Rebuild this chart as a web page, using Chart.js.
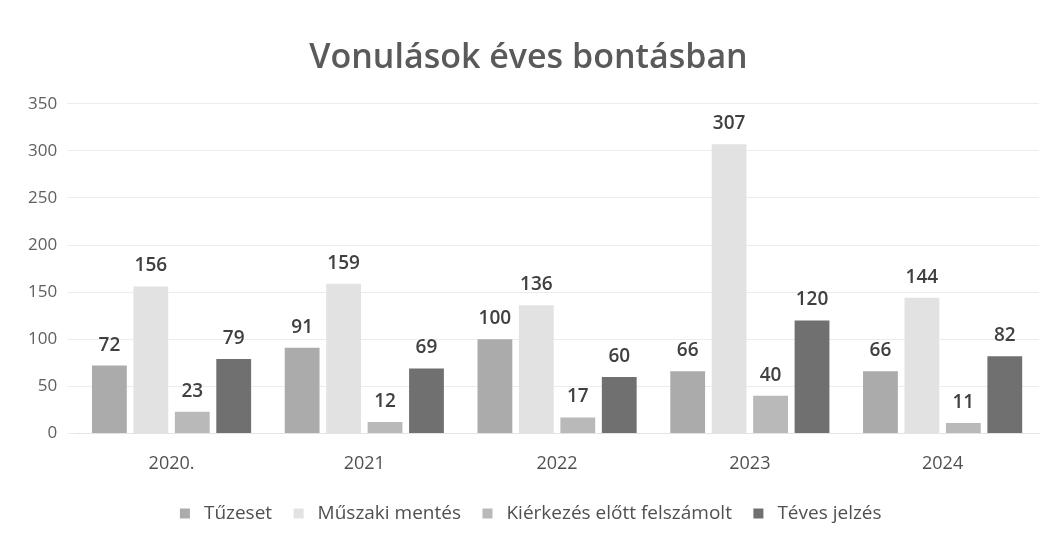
<!DOCTYPE html>
<html>
<head>
<meta charset="utf-8">
<script src="https://cdn.jsdelivr.net/npm/chart.js@4.4.1/dist/chart.umd.min.js"></script>
<style>
  html, body { margin: 0; padding: 0; background: #fff; }
  #wrap { width: 1057px; height: 539px; }
</style>
</head>
<body>
<div id="wrap"><canvas id="vonulasChart"></canvas></div>
<script>
const years = ["2020.", "2021", "2022", "2023", "2024"];
const tuzeset = [72, 91, 100, 66, 66];
const muszakiMentes = [156, 159, 136, 307, 144];
const kierkezesElott = [23, 12, 17, 40, 11];
const tevesJelzes = [79, 69, 60, 120, 82];

const fontFamily = "'Open Sans', 'Noto Sans', sans-serif";

// values above the bars
const barValues = {
    id: "barValues",
    afterDatasetsDraw(chart) {
        const ctx = chart.ctx;
        ctx.save();
        ctx.font = "600 19px " + fontFamily;
        ctx.fillStyle = "#404040";
        ctx.textAlign = "center";
        ctx.textBaseline = "bottom";
        chart.data.datasets.forEach((ds, i) => {
            chart.getDatasetMeta(i).data.forEach((bar, j) => {
                ctx.fillText(ds.data[j], bar.x, bar.y - 11);
            });
        });
        ctx.restore();
    },
};

const ctx = document.getElementById("vonulasChart").getContext("2d");
new Chart(ctx, {
    type: "bar",
    data: {
        labels: years,
        datasets: [
            { label: "Tűzeset", data: tuzeset, backgroundColor: "#ababab" },
            { label: "Műszaki mentés", data: muszakiMentes, backgroundColor: "#e2e2e2" },
            { label: "Kiérkezés előtt felszámolt", data: kierkezesElott, backgroundColor: "#b9b9b9" },
            { label: "Téves jelzés", data: tevesJelzes, backgroundColor: "#707070" },
        ],
    },
    options: {
        responsive: true,
        maintainAspectRatio: false,
        animation: false,
        categoryPercentage: 0.86,
        barPercentage: 0.84,
        layout: { padding: { left: 18, right: 18, top: 18, bottom: 6 } },
        scales: {
            x: {
                grid: { display: false },
                border: { color: "#e4e4e4" },
                ticks: { color: "#505050", font: { family: fontFamily, size: 18 }, padding: 12 },
            },
            y: {
                min: 0,
                max: 350,
                ticks: { stepSize: 50, color: "#606060", font: { family: fontFamily, size: 17 }, padding: 10 },
                grid: { color: "#ececec" },
                border: { display: false },
            },
        },
        plugins: {
            title: {
                display: true,
                text: "Vonulások éves bontásban",
                color: "#5a5a5a",
                font: { family: fontFamily, size: 34, weight: "600" },
                padding: { top: 20, bottom: 25 },
            },
            legend: {
                position: "bottom",
                labels: {
                    color: "#505050",
                    font: { family: fontFamily, size: 19 },
                    usePointStyle: true,
                    pointStyle: "rect",
                    boxWidth: 19,
                    boxHeight: 10,
                    padding: 17,
                },
            },
            tooltip: { enabled: false },
        },
    },
    plugins: [barValues],
});
</script>
</body>
</html>
